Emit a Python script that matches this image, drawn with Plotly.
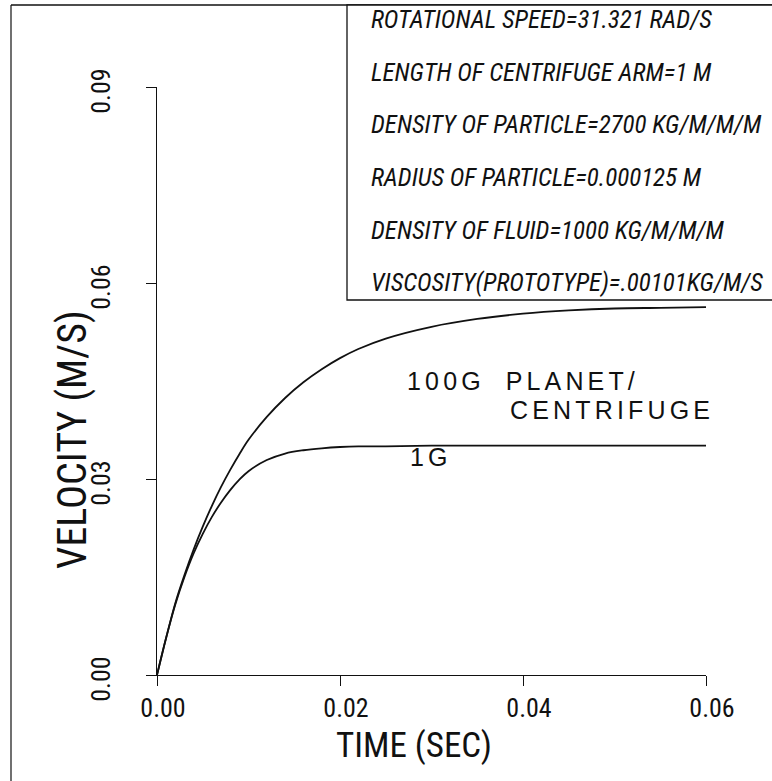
import plotly.graph_objects as go

# Particle settling velocity in a 1g field and a 100g centrifuge
time_s = [0, 0.001, 0.002, 0.003, 0.004, 0.005, 0.006, 0.007, 0.008, 0.009, 0.010,
          0.012, 0.014, 0.016, 0.018, 0.020, 0.022, 0.025, 0.030, 0.035, 0.040,
          0.045, 0.050, 0.055, 0.060]
vel_100g = [0, 0.0057, 0.0110, 0.0153, 0.0192, 0.0227, 0.0259, 0.0288, 0.0314, 0.0338, 0.0360,
            0.0395, 0.0424, 0.0448, 0.0468, 0.0485, 0.0499, 0.0515, 0.0533, 0.0545, 0.0553,
            0.0558, 0.0561, 0.0562, 0.0563]
vel_1g = [0, 0.0057, 0.0108, 0.0150, 0.0186, 0.0216, 0.0242, 0.0264, 0.0283, 0.0299, 0.0312,
          0.0329, 0.0339, 0.0344, 0.0347, 0.0349, 0.0350, 0.0350, 0.0351, 0.0351, 0.0351,
          0.0351, 0.0351, 0.0351, 0.0351]

x_ticks = [0.0, 0.02, 0.04, 0.06]
x_tick_text = ["0.00", "0.02", "0.04", "0.06"]
y_ticks = [0.0, 0.03, 0.06, 0.09]
y_tick_text = ["0.00", "0.03", "0.06", "0.09"]

params = [
    "ROTATIONAL SPEED=31.321 RAD/S",
    "LENGTH OF CENTRIFUGE ARM=1 M",
    "DENSITY OF PARTICLE=2700 KG/M/M/M",
    "RADIUS OF PARTICLE=0.000125 M",
    "DENSITY OF FLUID=1000 KG/M/M/M",
    "VISCOSITY(PROTOTYPE)=.00101KG/M/S",
]

W, H = 772, 781
L, R, T, B = 157, 66, 87, 106
PW, PH = W - L - R, H - T - B


def px(x):
    return (x - L) / PW


def py(y):
    return (H - B - y) / PH


COND = "Roboto Condensed, Liberation Sans Narrow, DejaVu Sans Condensed, sans-serif"
TYPE = "Liberation Sans, Arial, sans-serif"
INK = "#111111"
GAP = "\u2006"


def spaced(s):
    return GAP.join(s)


fig = go.Figure()
fig.add_trace(go.Scatter(x=time_s, y=vel_100g, mode="lines", line_shape="spline",
                         line=dict(color=INK, width=1.8), showlegend=False))
fig.add_trace(go.Scatter(x=time_s, y=vel_1g, mode="lines", line_shape="spline",
                         line=dict(color=INK, width=1.8), showlegend=False))

axis_common = dict(showgrid=False, zeroline=False, showline=True, linecolor=INK, linewidth=1.4,
                   ticks="outside", ticklen=10, tickwidth=1.3, tickcolor=INK,
                   tickfont=dict(family=COND, size=26, color=INK))

fig.update_xaxes(range=[0, 0.06], tickvals=x_ticks, ticktext=x_tick_text,
                 ticklabelshift=6, **axis_common)
fig.update_yaxes(range=[0, 0.09], tickvals=y_ticks, ticktext=y_tick_text, tickangle=-90,
                 ticklabelstandoff=25, ticklabelshift=8, **axis_common)


def note(x, y, text, font, xanchor="center", angle=0):
    return dict(x=px(x), y=py(y), xref="paper", yref="paper", text=text, showarrow=False,
                xanchor=xanchor, yanchor="middle", textangle=angle, font=font)


annotations = [
    note(414, 745, "TIME (SEC)", dict(family=COND, size=35, color=INK)),
    note(72, 440, "VELOCITY (M/S)", dict(family=COND, size=40, color=INK), angle=-90),
]

# parameter box text
for i, line in enumerate(params):
    annotations.append(note(369, 20 + 52.5 * i, line,
                            dict(family=COND, size=25, color=INK, style="italic"),
                            xanchor="left"))

# curve labels
label_font = dict(family=TYPE, size=25, color=INK)
annotations.append(note(405, 381, spaced("100G") + "\u2003" + spaced("PLANET/"),
                        label_font, xanchor="left"))
annotations.append(note(508, 410, spaced("CENTRIFUGE"), label_font, xanchor="left"))
annotations.append(note(408, 457, spaced("1G"), label_font, xanchor="left"))

shapes = [
    # outer frame (left and top edges)
    dict(type="line", xref="paper", yref="paper", x0=px(11), y0=py(5), x1=px(11), y1=py(781),
         line=dict(color=INK, width=1.2)),
    dict(type="line", xref="paper", yref="paper", x0=px(11), y0=py(5), x1=px(772), y1=py(5),
         line=dict(color=INK, width=1.5)),
    # parameter box
    dict(type="rect", xref="paper", yref="paper", x0=px(347), y0=py(5), x1=px(775), y1=py(300),
         line=dict(color=INK, width=1.3), fillcolor="white", layer="above"),
]

fig.update_layout(width=W, height=H, autosize=False,
                  margin=dict(l=L, r=R, t=T, b=B, pad=0),
                  paper_bgcolor="white", plot_bgcolor="white",
                  annotations=annotations, shapes=shapes)

fig.write_html("out.html")
